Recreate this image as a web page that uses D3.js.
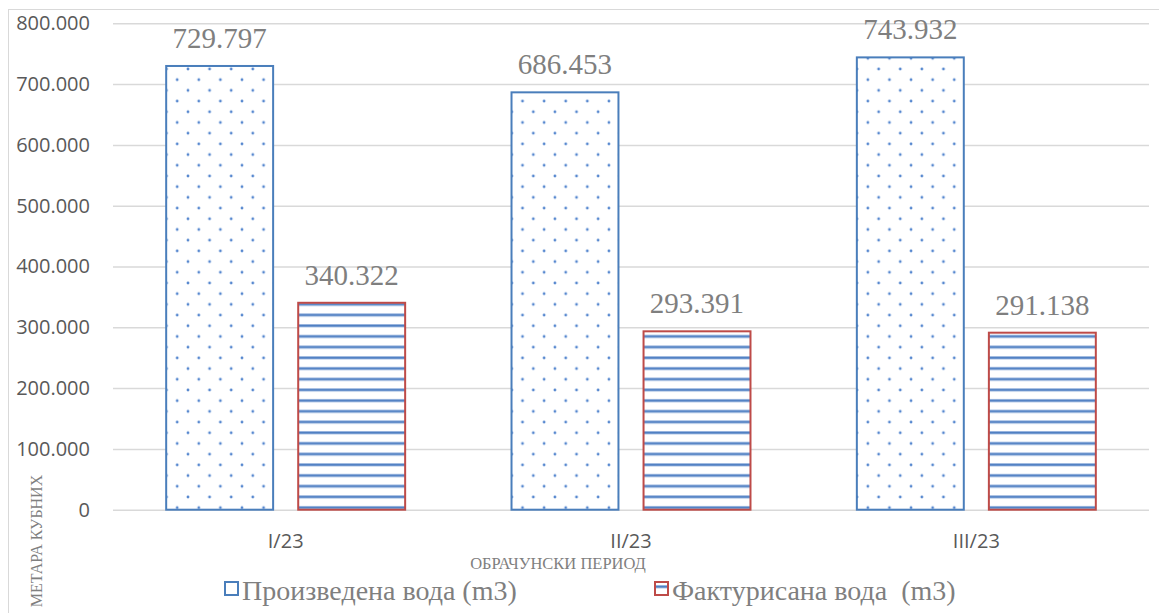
<!DOCTYPE html>
<html>
<head>
<meta charset="utf-8">
<script src="https://cdn.jsdelivr.net/npm/d3@7"></script>
<style>
  body { margin: 0; background: #fff; }
  svg { display: block; }
</style>
</head>
<body>
<div class="chart"></div>
<script>
// Data
const periods = ["I/23", "II/23", "III/23"];
const seriesNames = ["Произведена вода (m3)", "Фактурисана вода  (m3)"];
const produced = [729797, 686453, 743932];
const billed = [340322, 293391, 291138];
const yTicks = [0, 100000, 200000, 300000, 400000, 500000, 600000, 700000, 800000];

const W = 1159, H = 613;
const plot = { left: 113, right: 1149, top: 23.3, bottom: 509.7 };

const svg = d3.select(".chart")
    .append("svg")
    .attr("width", W)
    .attr("height", H);

// chart frame
svg.append("rect")
    .attr("x", 8.5).attr("y", 9.5)
    .attr("width", W).attr("height", H)
    .attr("fill", "none")
    .attr("stroke", "#d9d9d9")
    .attr("stroke-width", 1);

const defs = svg.append("defs");

// dotted pattern for produced water
const dotColor = "#5687cf";
const dots = defs.append("pattern")
    .attr("id", "dots")
    .attr("patternUnits", "userSpaceOnUse")
    .attr("x", 173).attr("y", 69)
    .attr("width", 21.6).attr("height", 21.4);
dots.append("rect").attr("width", 21.6).attr("height", 21.4).attr("fill", "#fff");
[[0, 0], [21.6, 0], [0, 21.4], [21.6, 21.4], [10.8, 10.7]].forEach(p => {
    dots.append("circle").attr("cx", p[0]).attr("cy", p[1]).attr("r", 1.4).attr("fill", dotColor);
});

// horizontal stripes for billed water
const stripes = defs.append("pattern")
    .attr("id", "stripes")
    .attr("patternUnits", "userSpaceOnUse")
    .attr("x", 0).attr("y", 3)
    .attr("width", 20).attr("height", 10.7);
stripes.append("rect").attr("width", 20).attr("height", 10.7).attr("fill", "#fff");
stripes.append("rect").attr("y", 0).attr("width", 20).attr("height", 3.4).attr("fill", "#a9c1e4");
stripes.append("rect").attr("y", 0.8).attr("width", 20).attr("height", 1.8).attr("fill", "#4f7fc2");

const fills = ["url(#dots)", "url(#stripes)"];
const strokes = ["#4a7ebb", "#be4b48"];

// scales
const x0 = d3.scaleBand()
    .domain(periods)
    .range([plot.left, plot.right])
    .paddingInner(0.308)
    .paddingOuter(0.154);

const x1 = d3.scaleBand()
    .domain(seriesNames)
    .range([0, x0.bandwidth()])
    .paddingInner(0.19);

const y = d3.scaleLinear()
    .domain([0, 800000])
    .range([plot.bottom, plot.top]);

const locale = d3.formatLocale({ decimal: ",", thousands: ".", grouping: [3], currency: ["", ""] });
const fmt = locale.format(",");

// y axis with gridlines
const yAxis = svg.append("g")
    .attr("transform", `translate(${plot.left},0)`)
    .call(d3.axisLeft(y).tickValues(yTicks).tickFormat(fmt)
        .tickSize(-(plot.right - plot.left)).tickPadding(23));
yAxis.select(".domain").remove();
yAxis.selectAll(".tick line").attr("stroke", "#d9d9d9").attr("stroke-width", 1.5);
yAxis.selectAll(".tick text")
    .attr("fill", "#595959")
    .style("font-family", "'Open Sans', sans-serif")
    .style("font-size", "20px");

// x axis labels
const xAxis = svg.append("g")
    .attr("transform", `translate(0,${plot.bottom})`)
    .call(d3.axisBottom(x0).tickSize(0).tickPadding(24));
xAxis.select(".domain").remove();
xAxis.selectAll(".tick text")
    .attr("fill", "#595959")
    .style("font-family", "'Open Sans', sans-serif")
    .style("font-size", "20px");

// bars
const rows = periods.map((p, i) => ({ period: p, values: [produced[i], billed[i]] }));

const groups = svg.selectAll(".group")
    .data(rows)
    .enter()
    .append("g")
    .attr("class", "group")
    .attr("transform", d => `translate(${x0(d.period)},0)`);

groups.selectAll("rect")
    .data(d => d.values.map((v, j) => ({ name: seriesNames[j], value: v, j })))
    .enter()
    .append("rect")
    .attr("x", d => x1(d.name))
    .attr("y", d => y(d.value))
    .attr("width", x1.bandwidth())
    .attr("height", d => y(0) - y(d.value))
    .attr("fill", d => fills[d.j])
    .attr("stroke", d => strokes[d.j])
    .attr("stroke-width", 2);

// value labels
groups.selectAll(".val")
    .data(d => d.values.map((v, j) => ({ name: seriesNames[j], value: v })))
    .enter()
    .append("text")
    .attr("class", "val")
    .attr("x", d => x1(d.name) + x1.bandwidth() / 2)
    .attr("y", d => y(d.value) - 18)
    .attr("text-anchor", "middle")
    .attr("fill", "#7f7f7f")
    .style("font-family", "'Liberation Serif', 'Times New Roman', serif")
    .style("font-size", "29px")
    .text(d => fmt(d.value));

// axis titles
svg.append("text")
    .attr("x", 558)
    .attr("y", 569)
    .attr("text-anchor", "middle")
    .attr("fill", "#7f7f7f")
    .style("font-family", "'Liberation Serif', serif")
    .style("font-size", "16.5px")
    .text("ОБРАЧУНСКИ ПЕРИОД");

svg.append("text")
    .attr("transform", "rotate(-90)")
    .attr("x", -541)
    .attr("y", 42)
    .attr("text-anchor", "middle")
    .attr("fill", "#7f7f7f")
    .style("font-family", "'Liberation Serif', serif")
    .style("font-size", "16px")
    .text("МЕТАРА КУБНИХ");

// legend
const legendX = [225, 655];
const legend = svg.selectAll(".legend")
    .data(seriesNames)
    .enter()
    .append("g")
    .attr("class", "legend")
    .attr("transform", (d, i) => `translate(${legendX[i]},582)`);

legend.append("rect")
    .attr("width", 13).attr("height", 13)
    .attr("fill", (d, i) => i === 0 ? "#fff" : "url(#stripes)")
    .attr("stroke", (d, i) => strokes[i])
    .attr("stroke-width", 2);

legend.append("text")
    .attr("x", 17)
    .attr("y", 18)
    .attr("fill", "#7f7f7f")
    .style("font-family", "'Liberation Serif', serif")
    .style("font-size", "28px")
    .style("white-space", "pre")
    .text(d => d);
</script>
</body>
</html>
